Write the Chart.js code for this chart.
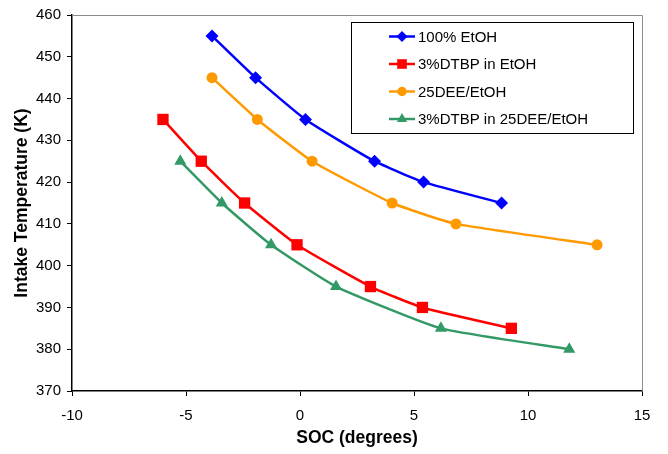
<!DOCTYPE html>
<html>
<head>
<meta charset="utf-8">
<script src="https://cdn.jsdelivr.net/npm/chart.js@4.4.0/dist/chart.umd.min.js"></script>
<style>
html,body{margin:0;padding:0;background:#fff;}
#wrap{width:668px;height:454px;position:relative;}
</style>
</head>
<body>
<div id="wrap"><canvas id="c" width="668" height="454"></canvas></div>
<script>
// Data
const seriesNames = ["100% EtOH", "3%DTBP in EtOH", "25DEE/EtOH", "3%DTBP in 25DEE/EtOH"];
const etohX   = [-3.86, -1.95, 0.24, 3.27, 5.42, 8.84];
const etohY   = [455, 445, 435, 425, 420, 415];
const dtbpX   = [-6.01, -4.33, -2.43, -0.13, 3.09, 5.37, 9.27];
const dtbpY   = [435, 425, 415, 405, 395, 390, 385];
const deeX    = [-3.86, -1.87, 0.53, 4.04, 6.84, 13.03];
const deeY    = [445, 435, 425, 415, 410, 405];
const dtbpDeeX = [-5.25, -3.43, -1.27, 1.58, 6.18, 11.81];
const dtbpDeeY = [425, 415, 405, 395, 385, 380];
const xTickRange = [-10, 15, 5];
const yTickRange = [370, 460, 10];

const colors = ["#0000FF", "#FF0000", "#FF9900", "#339966"];
const pstyles = ["rectRot", "rect", "circle", "triangle"];
const pradius = [6.5, 8, 5.5, 7];

function pts(xs, ys){ return xs.map((x,i)=>({x:x, y:ys[i]})); }
const allData = [pts(etohX, etohY), pts(dtbpX, dtbpY), pts(deeX, deeY), pts(dtbpDeeX, dtbpDeeY)];

const datasets = allData.map((d,i)=>({
  label: seriesNames[i],
  data: d,
  borderColor: colors[i],
  backgroundColor: colors[i],
  borderWidth: 2.5,
  pointStyle: pstyles[i],
  pointRadius: pradius[i],
  pointBorderWidth: 0,
  pointBackgroundColor: colors[i],
  tension: 0.15,
  showLine: true,
  fill: false
}));

const FONT = "'Liberation Sans', Arial, sans-serif";

const frameAndLegend = {
  id: 'frameAndLegend',
  afterDraw(chart){
    const ctx = chart.ctx;
    const a = chart.chartArea;
    ctx.save();
    // gray top/right frame
    ctx.strokeStyle = '#8c8c8c';
    ctx.lineWidth = 1;
    ctx.beginPath();
    ctx.moveTo(a.left, a.top + 0.5);
    ctx.lineTo(a.right + 0.5, a.top + 0.5);
    ctx.lineTo(a.right + 0.5, a.bottom);
    ctx.stroke();
    // legend box
    const lx = 351, ly = 22, lw = 282, lh = 111;
    ctx.fillStyle = '#fff';
    ctx.fillRect(lx, ly, lw, lh);
    ctx.strokeStyle = '#000';
    ctx.lineWidth = 1;
    ctx.strokeRect(lx + 0.5, ly + 0.5, lw, lh);
    const rowsY = [36.5, 64, 91.5, 119];
    ctx.font = "15px " + FONT;
    ctx.textBaseline = 'middle';
    ctx.textAlign = 'left';
    seriesNames.forEach((name, i)=>{
      const y = rowsY[i];
      ctx.strokeStyle = colors[i];
      ctx.lineWidth = 2.5;
      ctx.beginPath();
      ctx.moveTo(389, y);
      ctx.lineTo(415, y);
      ctx.stroke();
      ctx.fillStyle = colors[i];
      Chart.helpers.drawPoint(ctx, {pointStyle: pstyles[i], radius: pradius[i]*0.85, rotation: 0, borderWidth: 0}, 402, y);
      ctx.fillStyle = '#000';
      ctx.fillText(name, 418, y + 1);
    });
    ctx.restore();
  }
};

new Chart(document.getElementById('c'), {
  type: 'scatter',
  data: { datasets },
  plugins: [frameAndLegend],
  options: {
    responsive: false,
    animation: false,
    devicePixelRatio: 1,
    layout: { padding: { top: 14, right: 26, left: 0, bottom: 0 } },
    plugins: { legend: { display: false }, tooltip: { enabled: false } },
    scales: {
      x: {
        type: 'linear',
        min: xTickRange[0], max: xTickRange[1],
        ticks: { stepSize: xTickRange[2], color: '#000', font: { size: 15, family: FONT }, padding: 11 },
        grid: { drawOnChartArea: false, drawTicks: true, tickLength: 5, color: '#000' },
        border: { color: '#000', width: 1.5 },
        title: { display: true, text: 'SOC (degrees)', color: '#000', font: { size: 17.5, weight: 'bold', family: FONT }, padding: { top: 0, bottom: 5 } },
        afterFit(scale){ scale.height = 63; }
      },
      y: {
        type: 'linear',
        min: yTickRange[0], max: yTickRange[1],
        ticks: { stepSize: yTickRange[2], color: '#000', font: { size: 15, family: FONT }, padding: 6 },
        grid: { drawOnChartArea: false, drawTicks: true, tickLength: 5, color: '#000' },
        border: { color: '#000', width: 1.5 },
        title: { display: true, text: 'Intake Temperature (K)', color: '#000', font: { size: 17.5, weight: 'bold', family: FONT }, padding: { top: 12, bottom: 0 } },
        afterFit(scale){ scale.width = 72; }
      }
    }
  }
});
</script>
</body>
</html>
